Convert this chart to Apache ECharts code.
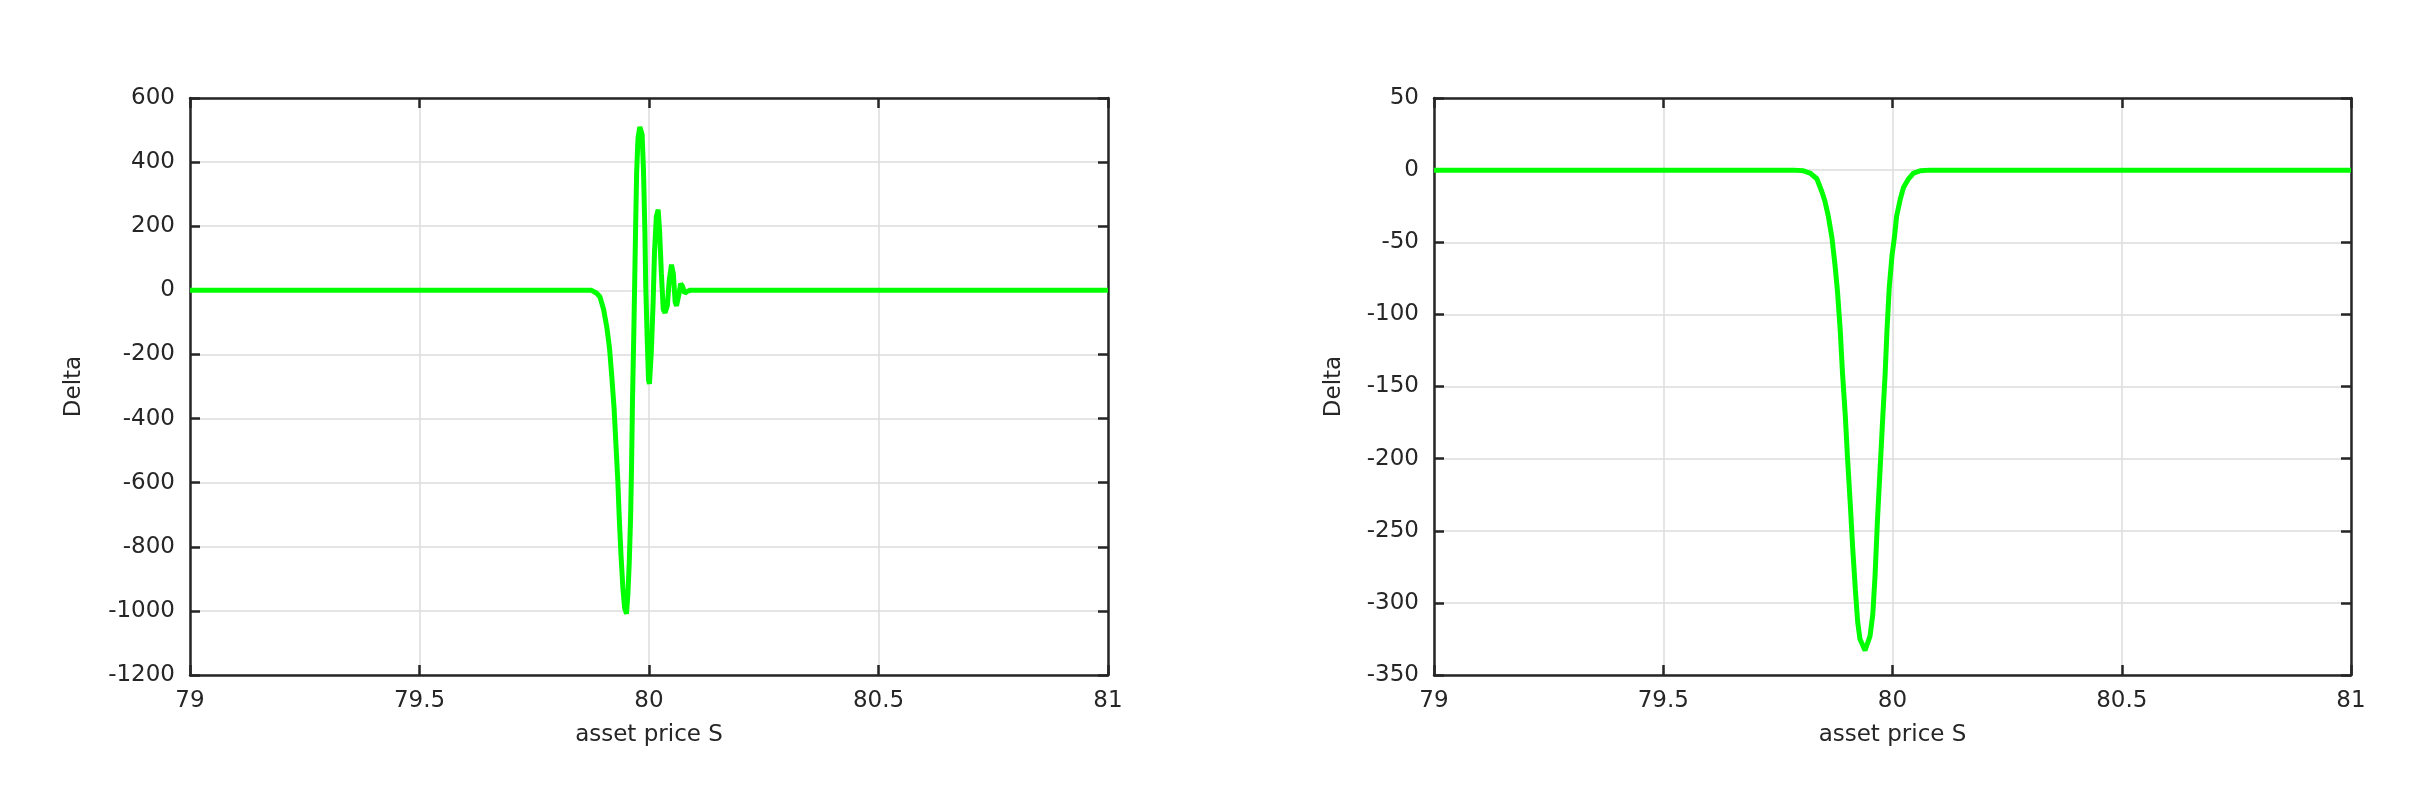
<!DOCTYPE html>
<html>
<head>
<meta charset="utf-8">
<title>Delta vs asset price</title>
<script src="https://cdn.jsdelivr.net/npm/echarts@6/dist/echarts.min.js"></script>
<style>
  html, body { margin: 0; padding: 0; background: #fff; }
  #chart { width: 2431px; height: 793px; }
</style>
</head>
<body>
<div id="chart"></div>
<script>
// left panel: oscillating delta
var leftS = [79, 79.875, 79.886, 79.893, 79.901, 79.908, 79.914, 79.919, 79.924, 79.928,
  79.932, 79.935, 79.939, 79.943, 79.947, 79.951, 79.954, 79.957, 79.960, 79.962,
  79.964, 79.967, 79.969, 79.971, 79.973, 79.976, 79.980, 79.985, 79.988, 79.991,
  79.993, 79.996, 79.999, 80.001, 80.005, 80.009, 80.012, 80.016, 80.020, 80.023,
  80.027, 80.031, 80.035, 80.040, 80.044, 80.049, 80.053, 80.057, 80.060, 80.065,
  80.069, 80.073, 80.078, 80.084, 80.089, 81];
var leftDelta = [0, 0, -9, -20, -59, -114, -181, -270, -370, -481,
  -592, -703, -826, -926, -992, -1009, -948, -848, -703, -548,
  -348, -126, 41, 208, 363, 474, 510, 486, 374, 186,
  8, -148, -281, -292, -192, -37, 119, 230, 252, 186,
  52, -59, -70, -48, 30, 80, 52, -37, -48, -14,
  21, 13, -9, -3, 0, 0];

// right panel: smooth delta dip
var rightS = [79, 79.784, 79.806, 79.820, 79.835, 79.846, 79.853, 79.860, 79.868, 79.875,
  79.880, 79.886, 79.891, 79.897, 79.902, 79.908, 79.913, 79.919, 79.924, 79.929,
  79.940, 79.951, 79.957, 79.962, 79.967, 79.973, 79.979, 79.984, 79.988, 79.993,
  79.999, 80.004, 80.009, 80.017, 80.024, 80.035, 80.046, 80.060, 80.082, 81];
var rightDelta = [0, 0, -0.5, -2, -6, -15, -22, -32, -47, -67,
  -84, -111, -141, -170, -200, -232, -261, -291, -313, -325,
  -333, -323, -308, -281, -244, -207, -170, -141, -111, -81,
  -59, -47, -32, -20, -12, -6, -2, -0.5, 0, 0];

var xTicks = { min: 79, max: 81, interval: 0.5 };
var leftTicks = { min: -1200, max: 600, interval: 200 };
var rightTicks = { min: -350, max: 50, interval: 50 };

var ink = '#262626';
var font = 'DejaVu Sans';

function pairs(xs, ys) {
  return xs.map(function (x, i) { return [x, ys[i]]; });
}

function plain(v) { return String(v); }

function xAxisFor(grid, top) {
  return {
    type: 'value', gridIndex: grid, position: top ? 'top' : 'bottom',
    min: xTicks.min, max: xTicks.max, interval: xTicks.interval,
    name: top ? '' : 'asset price S', nameLocation: 'middle', nameGap: 49,
    nameTextStyle: { color: ink, fontFamily: font, fontSize: 23 },
    axisLine: { show: true, onZero: false, lineStyle: { color: ink, width: 2.5 } },
    axisTick: { show: true, inside: true, length: 10, lineStyle: { color: ink, width: 2.5 } },
    axisLabel: { show: !top, margin: 15, color: ink, fontFamily: font, fontSize: 23, formatter: plain },
    splitLine: { show: !top, lineStyle: { color: '#dcdcdc', width: 1.5 } }
  };
}

function yAxisFor(grid, ticks, right, gap) {
  return {
    type: 'value', gridIndex: grid, position: right ? 'right' : 'left',
    min: ticks.min, max: ticks.max, interval: ticks.interval,
    name: right ? '' : 'Delta', nameLocation: 'middle', nameGap: gap, nameRotate: 90,
    nameTextStyle: { color: ink, fontFamily: font, fontSize: 23 },
    axisLine: { show: true, onZero: false, lineStyle: { color: ink, width: 2.5 } },
    axisTick: { show: true, inside: true, length: 10, lineStyle: { color: ink, width: 2.5 } },
    axisLabel: { show: !right, margin: 15, color: ink, fontFamily: font, fontSize: 23, formatter: plain },
    splitLine: { show: !right, lineStyle: { color: '#dcdcdc', width: 1.5 } }
  };
}

var chart = echarts.init(document.getElementById('chart'));
chart.setOption({
  animation: false,
  backgroundColor: '#fff',
  grid: [
    { left: 190, top: 98, width: 918, height: 577 },
    { left: 1434, top: 98, width: 917, height: 577 }
  ],
  xAxis: [xAxisFor(0, false), xAxisFor(0, true), xAxisFor(1, false), xAxisFor(1, true)],
  yAxis: [
    yAxisFor(0, leftTicks, false, 104), yAxisFor(0, leftTicks, true, 0),
    yAxisFor(1, rightTicks, false, 88), yAxisFor(1, rightTicks, true, 0)
  ],
  series: [
    { type: 'line', xAxisIndex: 0, yAxisIndex: 0, data: pairs(leftS, leftDelta),
      showSymbol: false, lineStyle: { color: '#00ff00', width: 5 }, z: 3 },
    { type: 'line', xAxisIndex: 2, yAxisIndex: 2, data: pairs(rightS, rightDelta),
      showSymbol: false, lineStyle: { color: '#00ff00', width: 5 }, z: 3 }
  ]
});
</script>
</body>
</html>
